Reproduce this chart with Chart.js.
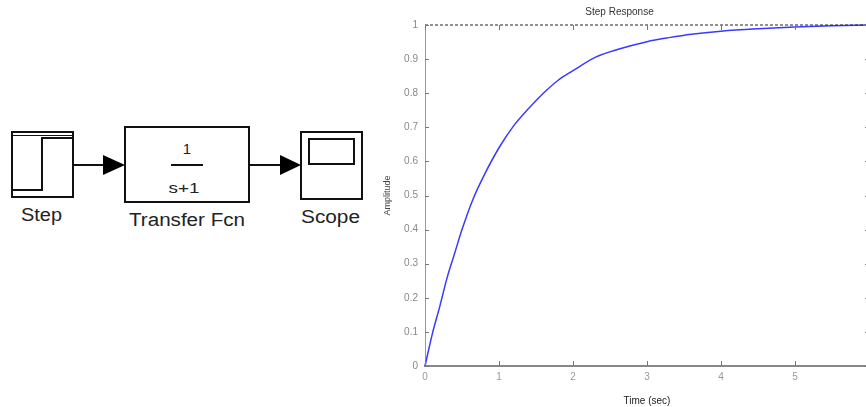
<!DOCTYPE html>
<html>
<head>
<meta charset="utf-8">
<script src="https://cdn.jsdelivr.net/npm/chart.js@4/dist/chart.umd.min.js"></script>
<style>
    html, body { margin: 0; padding: 0; background: #fff; overflow: hidden; width: 866px; height: 407px; }
    #diagram { position: absolute; left: 0; top: 0; }
    #wrap { position: absolute; left: 370px; top: 0; width: 510px; height: 407px; }
    svg text { font-family: "Liberation Sans", Arial, sans-serif; fill: #222; }
</style>
</head>
<body>

<!-- Diagrama de blocos (Step -> Transfer Fcn -> Scope) -->
<svg id="diagram" width="370" height="407">
    <g stroke="#111" stroke-width="2" fill="none">
        <rect x="12" y="132" width="61" height="65"/>
        <line x1="12" y1="135.5" x2="73" y2="135.5" stroke-width="1"/>
        <polyline points="13,190 42,190 42,138 72,138"/>
        <line x1="73" y1="165" x2="104" y2="165"/>
        <rect x="125" y="127" width="124" height="75"/>
        <line x1="171" y1="165" x2="203" y2="165"/>
        <line x1="249" y1="165" x2="283" y2="165"/>
        <rect x="301" y="132" width="61" height="67"/>
        <rect x="309" y="139" width="45" height="25"/>
    </g>
    <polygon points="103,155 125,165 103,175" fill="#000"/>
    <polygon points="280,155 301,165 280,175" fill="#000"/>
    <text x="187" y="154" font-size="15" text-anchor="middle">1</text>
    <text x="184" y="193" font-size="15" text-anchor="middle" textLength="31" lengthAdjust="spacingAndGlyphs">s+1</text>
    <text x="21" y="221" font-size="18" textLength="41" lengthAdjust="spacingAndGlyphs">Step</text>
    <text x="129" y="226" font-size="18" textLength="116" lengthAdjust="spacingAndGlyphs">Transfer Fcn</text>
    <text x="301" y="223" font-size="18" textLength="59" lengthAdjust="spacingAndGlyphs">Scope</text>
</svg>

<div id="wrap"><canvas id="myChart"></canvas></div>

<script>
// Dados (resposta ao degrau)
const tempos = [0, 0.1, 0.2, 0.3, 0.4, 0.5, 0.65, 0.8, 1.0, 1.2, 1.4, 1.6, 1.8, 2.0, 2.3, 2.6, 3.0, 3.3, 3.6, 4.0, 4.5, 5.0, 5.5, 6.0];
const amplitude = [0, 0.095, 0.175, 0.26, 0.33, 0.40, 0.49, 0.56, 0.64, 0.705, 0.755, 0.80, 0.838, 0.866, 0.905, 0.928, 0.951, 0.963, 0.973, 0.982, 0.989, 0.994, 0.998, 1.0];
const valorFinal = [1, 1];
const limitesTempo = [0, 6];
const ticksX = [0, 1, 2, 3, 4, 5, 6];
const ticksY = [0, 0.1, 0.2, 0.3, 0.4, 0.5, 0.6, 0.7, 0.8, 0.9, 1];

// Ticks para dentro, estilo MATLAB, e moldura do gráfico
const molduraPlugin = {
    id: 'moldura',
    afterDatasetsDraw(chart) {
        const { ctx, chartArea: a, scales } = chart;
        ctx.save();
        ctx.strokeStyle = '#8a8a8a';
        ctx.lineWidth = 1;
        ctx.beginPath();
        ctx.moveTo(a.right, a.top);
        ctx.lineTo(a.right, a.bottom);
        ctx.stroke();
        ctx.strokeStyle = '#777';
        ctx.beginPath();
        ticksY.forEach(v => {
            const y = Math.round(scales.y.getPixelForValue(v)) + 0.5;
            ctx.moveTo(a.left, y); ctx.lineTo(a.left + 4, y);
            ctx.moveTo(a.right, y); ctx.lineTo(a.right - 4, y);
        });
        ticksX.forEach(v => {
            const x = Math.round(scales.x.getPixelForValue(v)) + 0.5;
            ctx.moveTo(x, a.bottom); ctx.lineTo(x, a.bottom - 5);
            ctx.moveTo(x, a.top); ctx.lineTo(x, a.top + 5);
        });
        ctx.stroke();
        ctx.restore();
    }
};

const ctx = document.getElementById('myChart');

new Chart(ctx, {
    type: 'line',
    data: {
        datasets: [
            {
                label: 'Final',
                data: limitesTempo.map((t, i) => ({ x: t, y: valorFinal[i] })),
                borderColor: '#222',
                borderWidth: 1,
                borderDash: [3, 2],
                pointRadius: 0,
                clip: 3
            },
            {
                label: 'Step',
                data: tempos.map((t, i) => ({ x: t, y: amplitude[i] })),
                borderColor: '#3a3aff',
                borderWidth: 1.5,
                pointRadius: 0,
                cubicInterpolationMode: 'monotone',
                clip: 3
            }
        ]
    },
    options: {
        responsive: true,
        maintainAspectRatio: false,
        animation: false,
        layout: { padding: { top: 0, right: 11, bottom: 0, left: 0 } },
        plugins: {
            legend: { display: false },
            tooltip: { enabled: false },
            title: {
                display: true,
                text: 'Step Response',
                color: '#333',
                font: { family: 'Liberation Sans, Arial', size: 10, weight: 'normal' },
                padding: { top: 6, bottom: 7 }
            }
        },
        scales: {
            x: {
                type: 'linear',
                min: limitesTempo[0],
                max: limitesTempo[1],
                afterBuildTicks: s => { s.ticks = ticksX.map(v => ({ value: v })); },
                afterFit: s => { s.height = 41; },
                grid: { display: false, drawTicks: false },
                border: { display: true, color: '#888', width: 2 },
                ticks: {
                    padding: 5,
                    color: '#999',
                    font: { family: 'Liberation Sans, Arial', size: 10 },
                    maxRotation: 0
                },
                title: {
                    display: true,
                    text: 'Time (sec)',
                    color: '#222',
                    font: { family: 'Liberation Sans, Arial', size: 10 },
                    padding: { top: 5, bottom: 0 }
                }
            },
            y: {
                min: 0,
                max: 1,
                afterBuildTicks: s => { s.ticks = ticksY.map(v => ({ value: v })); },
                afterFit: s => { s.width = 55; },
                grid: { display: false, drawTicks: false },
                border: { display: true, color: '#999', width: 1 },
                ticks: {
                    padding: 7,
                    color: '#888',
                    font: { family: 'Liberation Sans, Arial', size: 10 },
                    callback: v => String(+v.toFixed(1))
                },
                title: {
                    display: true,
                    text: 'Amplitude',
                    color: '#444',
                    font: { family: 'Liberation Sans, Arial', size: 9 },
                    padding: { top: 12, bottom: 0 }
                }
            }
        }
    },
    plugins: [molduraPlugin]
});
</script>
</body>
</html>
